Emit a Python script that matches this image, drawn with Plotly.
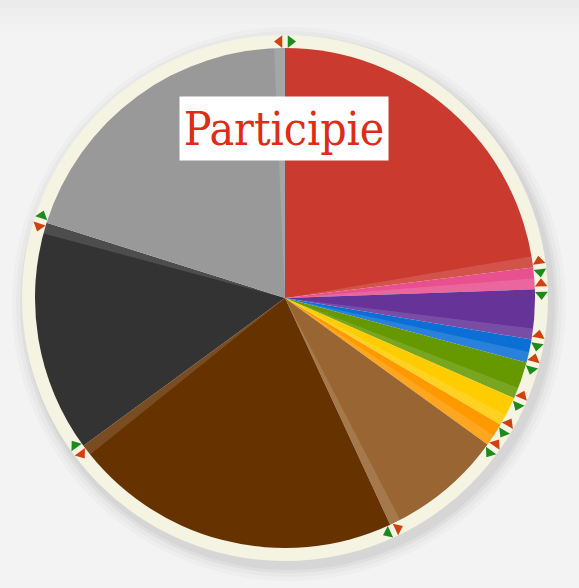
import numpy as np
import plotly.graph_objects as go

# ---- data ----
labels = ["Red", "Pink", "Purple", "Blue", "Green", "Yellow", "Orange",
          "Light brown", "Dark brown", "Dark gray", "Gray"]
values = [23.0, 1.4, 3.2, 1.5, 2.4, 1.9, 1.5, 8.1, 21.8, 14.9, 20.1]
colors = ["#cb3a2f", "#e8508f", "#663399", "#0b6fd6", "#669900", "#ffcc00",
          "#ff9900", "#996633", "#663300", "#333333", "#999999"]
title_text = "Participie"

# ---- geometry / style ----
W, H = 579, 588
cx, cy, r = 285, 298, 250
ring_r = 263
handle_r = 256.5
strip = 0.7  # width of the shading strip at the end of each slice (percent)

dom_x = [(cx - r) / W, (cx + r) / W]
dom_y = [1 - (cy + r) / H, 1 - (cy - r) / H]

fig = go.Figure()

# main pie
fig.add_trace(go.Pie(
    labels=labels, values=values, sort=False, direction="clockwise", rotation=0,
    marker=dict(colors=colors, line=dict(width=0)),
    textinfo="none", hoverinfo="label+percent", showlegend=False,
    domain=dict(x=dom_x, y=dom_y),
))

# shading strip overlay
ov_vals, ov_cols, ov_labels = [], [], []
for lab, v in zip(labels, values):
    ov_vals += [v - strip, strip]
    ov_cols += ["rgba(0,0,0,0)", "rgba(255,255,255,0.13)"]
    ov_labels += [lab + " ", lab + "  "]
fig.add_trace(go.Pie(
    labels=ov_labels, values=ov_vals, sort=False, direction="clockwise", rotation=0,
    marker=dict(colors=ov_cols, line=dict(width=0)),
    textinfo="none", hoverinfo="skip", showlegend=False,
    domain=dict(x=dom_x, y=dom_y),
))

# handles at slice boundaries
tot = float(np.sum(values))
bounds = np.concatenate([[0.0], np.cumsum(values)[:-1]]) / tot * 360.0
delta = np.degrees(5.5 / handle_r)
th_red = np.radians(bounds - delta)
th_grn = np.radians(bounds + delta)
fig.add_trace(go.Scatter(
    x=cx + handle_r * np.sin(th_red), y=cy - handle_r * np.cos(th_red),
    mode="markers", hoverinfo="skip", showlegend=False,
    marker=dict(symbol="triangle-up", size=11, color="#d2400f",
                angle=list(bounds - 90), line=dict(width=0)),
))
fig.add_trace(go.Scatter(
    x=cx + handle_r * np.sin(th_grn), y=cy - handle_r * np.cos(th_grn),
    mode="markers", hoverinfo="skip", showlegend=False,
    marker=dict(symbol="triangle-up", size=11, color="#1d8a1d",
                angle=list(bounds + 90), line=dict(width=0)),
))

shapes = []
# top background gradient
for i, c in enumerate(["#ebebeb", "#eeeeee", "#f0f0f0", "#f2f2f2"]):
    shapes.append(dict(type="rect", xref="x", yref="y", x0=0, x1=W, y0=i * 8, y1=i * 8 + 8,
                       fillcolor=c, line=dict(width=0), layer="below"))
# soft shadow around ring (offset to lower right)
for k, a in [(14, 0.02), (10, 0.025), (6, 0.035), (3, 0.04)]:
    shapes.append(dict(type="circle", xref="x", yref="y",
                       x0=cx + 4 - ring_r - k, x1=cx + 4 + ring_r + k,
                       y0=cy + 6 - ring_r - k, y1=cy + 6 + ring_r + k,
                       fillcolor=f"rgba(0,0,0,{a})", line=dict(width=0), layer="below"))
# cream ring
shapes.append(dict(type="circle", xref="x", yref="y",
                   x0=cx - ring_r, x1=cx + ring_r, y0=cy - ring_r, y1=cy + ring_r,
                   fillcolor="#f5f4e2", line=dict(width=0), layer="below"))

fig.update_layout(
    width=W, height=H, margin=dict(l=0, r=0, t=0, b=0),
    paper_bgcolor="#f3f3f3", plot_bgcolor="rgba(0,0,0,0)",
    xaxis=dict(range=[0, W], visible=False, fixedrange=True),
    yaxis=dict(range=[H, 0], visible=False, fixedrange=True),
    shapes=shapes,
    annotations=[dict(
        text=title_text, xref="x", yref="y", x=284, y=128.5,
        showarrow=False, width=208, height=63, bgcolor="#ffffff",
        align="center", valign="middle", borderpad=0,
        font=dict(family="DejaVu Serif Condensed, Liberation Serif, serif",
                  size=46, color="#de2c16"),
    )],
)

fig.write_html("out.html", config={"displayModeBar": False},
               post_script="document.body.style.margin='0';document.body.style.overflow='hidden';")
